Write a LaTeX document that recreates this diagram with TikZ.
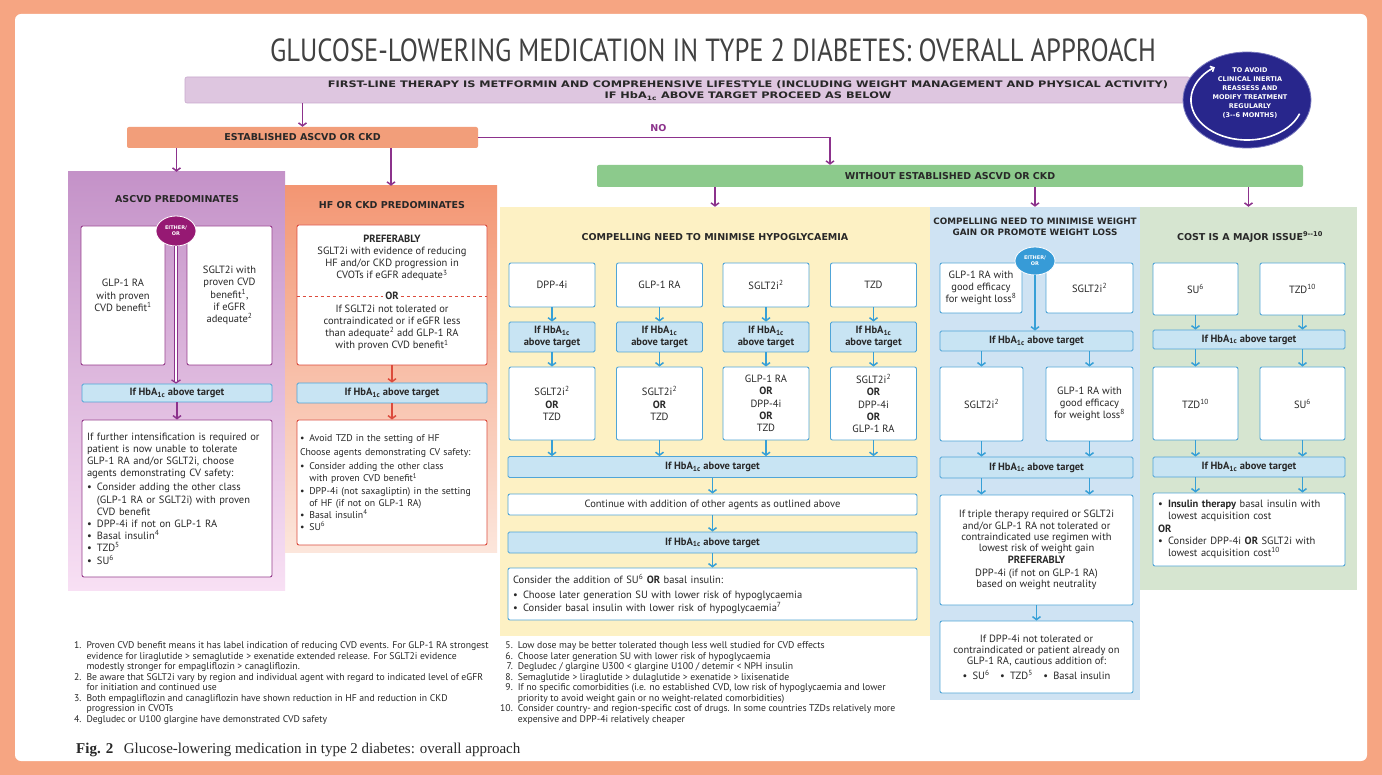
\documentclass[tikz,border=0pt]{standalone}
\usepackage{fontspec}
\setmainfont{PT Sans}
\newfontfamily\headfont{DejaVu Sans}
\newfontfamily\widefont{DejaVu Sans}[FakeStretch=1.26]
\newfontfamily\titlefont{PT Sans}[FakeStretch=0.83]
\newfontfamily\capfont{Liberation Serif}
\usetikzlibrary{arrows.meta,shapes.geometric}

\definecolor{framec}{RGB}{246,165,130}
\definecolor{titlec}{RGB}{65,65,65}
\definecolor{textc}{RGB}{40,40,40}
\definecolor{lavfill}{RGB}{222,198,224}
\definecolor{lavline}{RGB}{200,168,205}
\definecolor{navyc}{RGB}{40,38,140}
\definecolor{navyedge}{RGB}{120,120,190}
\definecolor{salmonbar}{RGB}{242,158,122}
\definecolor{purparrow}{RGB}{140,50,140}
\definecolor{greenbar}{RGB}{140,202,140}
\definecolor{ascvdtop}{RGB}{196,146,200}
\definecolor{ascvdbot}{RGB}{248,224,244}
\definecolor{hftop}{RGB}{243,150,115}
\definecolor{hfbot}{RGB}{252,230,220}
\definecolor{hypofill}{RGB}{253,241,196}
\definecolor{wtfill}{RGB}{207,227,243}
\definecolor{costfill}{RGB}{214,229,208}
\definecolor{bluebord}{RGB}{80,165,215}
\definecolor{bluearr}{RGB}{55,160,215}
\definecolor{barfill}{RGB}{200,228,243}
\definecolor{barline}{RGB}{80,165,215}
\definecolor{redbord}{RGB}{220,75,60}
\definecolor{purbord}{RGB}{150,60,140}
\definecolor{eopurple}{RGB}{150,25,115}
\definecolor{eoblue}{RGB}{55,155,215}

\newcommand{\hba}{HbA\textsubscript{1c}}
\newcommand{\bul}{\textbullet\enspace}
\newcommand{\bind}{\hphantom{\textbullet\enspace}}
\newcommand{\bodyfont}{\fontsize{10.5}{12.2}\selectfont}
\newcommand{\fnfont}{\fontsize{9.7}{10.5}\selectfont}

\tikzset{
  panel/.style={inner sep=0pt},
  sz/.style 2 args={minimum width=#1, minimum height=#2},
  wbox/.style={draw=#1, fill=white, line width=0.9pt, rounded corners=2pt, inner sep=1pt, align=center, font=\bodyfont, text=textc},
  lbox/.style={wbox=#1, align=left, inner xsep=5pt},
  tbar/.style={draw=barline, fill=barfill, line width=0.8pt, rounded corners=1.5pt, inner sep=0pt, align=center, font=\fontsize{10.5}{11.5}\selectfont\bfseries, text=textc},
  head/.style={font=\headfont\bfseries\fontsize{9.5}{11}\selectfont, align=center, inner sep=0pt, text=textc},
  eo/.style={ellipse, draw=white, line width=0.8pt, fill=#1, inner sep=0pt, text=white, align=center, font=\headfont\bfseries\fontsize{5}{6}\selectfont},
  arr/.style={draw=#1, line width=1.5pt, -{Straight Barb[length=3pt,width=8pt]}},
  dbl/.style={draw=#1, line width=1.2pt, double=white, double distance=2.4pt, -{Straight Barb[length=3pt,width=9pt]}},
}

\begin{document}
\begin{tikzpicture}[x=1pt, y=-1pt]
\useasboundingbox (0,0) rectangle (1382,775);
% frame
\fill[framec] (0,0) rectangle (1382,775);
\fill[white, rounded corners=6pt] (15,14) rectangle (1367,761);

\node[font=\titlefont\fontsize{32}{34}\selectfont, text=titlec] (title) at (713,50) {GLUCOSE-LOWERING MEDICATION IN TYPE 2 DIABETES: OVERALL APPROACH};

% first line therapy
\node[panel, fill=lavfill, draw=lavline, line width=0.6pt, rounded corners=2pt, sz={1005}{26}] (first) at (687.5,90) {};
\node[font=\widefont\bfseries\fontsize{9}{11}\selectfont, align=center, inner sep=0pt, text=textc] (firsttxt) at (748,90.5) {FIRST-LINE THERAPY IS METFORMIN AND COMPREHENSIVE LIFESTYLE (INCLUDING WEIGHT MANAGEMENT AND PHYSICAL ACTIVITY)\\IF HbA\textsubscript{1c} ABOVE TARGET PROCEED AS BELOW};

% review circle
\node[ellipse, fill=navyc, draw=navyedge, line width=0.8pt, inner sep=0pt, sz={128}{96}] (review) at (1247,100) {};
\draw[white, line width=1.6pt, -{Straight Barb[length=3pt,width=6pt]}] (1299.6,113.7) arc[start angle=-20, end angle=-235, x radius=56pt, y radius=40pt];
\node[font=\headfont\bfseries\fontsize{6.5}{9}\selectfont, text=white, align=center] (reviewtxt) at (1250,93) {TO AVOID\\CLINICAL INERTIA\\REASSESS AND\\MODIFY TREATMENT\\REGULARLY\\(3--6 MONTHS)};

% established / without
\node[panel, fill=salmonbar, rounded corners=2pt, sz={351}{21}, head] (est) at (302.5,137.5) {ESTABLISHED ASCVD OR CKD};
\node[panel, fill=greenbar, rounded corners=2pt, sz={706}{22}, head] (woe) at (950,176) {WITHOUT ESTABLISHED ASCVD OR CKD};
\draw[arr=purparrow] (est.north |- first.south) -- (est.north);
\draw[arr=purparrow] (est.east) -| ([xshift=-120pt]woe.north) node[pos=0.256, above=5pt, head, text=purparrow] (nolbl) {NO};

% panels
\node[panel, top color=ascvdtop, bottom color=ascvdbot, sz={217}{418}] (ascvd) at (176.5,381) {};
\node[panel, top color=hftop, bottom color=hfbot, sz={212}{366}] (hf) at (391,369) {};
\node[panel, fill=hypofill, sz={430}{429}] (hypo) at (715,421.5) {};
\node[panel, fill=wtfill, sz={210}{493}] (wt) at (1035,453.5) {};
\node[panel, fill=costfill, sz={217}{383}] (cost) at (1248.5,398.5) {};
\draw[arr=purparrow] (ascvd.north |- est.south) -- (ascvd.north);
\draw[arr=purparrow] (hf.north |- est.south) -- (hf.north);
\draw[arr=purparrow] (hypo.north |- woe.south) -- (hypo.north);
\draw[arr=purparrow] (wt.north |- woe.south) -- (wt.north);
\draw[arr=purparrow] (cost.north |- woe.south) -- (cost.north);

% ASCVD predominates
\node[head] (ascvdt) at (177,199) {ASCVD PREDOMINATES};
\node[wbox=purbord, sz={84}{139}] (a1) at (123,295.5) {GLP-1 RA\\with proven\\CVD benefit\textsuperscript{1}};
\node[wbox=purbord, sz={85}{139}] (a2) at (229.5,295.5) {SGLT2i with\\proven CVD\\benefit\textsuperscript{1},\\if eGFR\\adequate\textsuperscript{2}};
\node[eo=eopurple, sz={40}{30}] (eo1) at (176,231) {EITHER/\\OR};
\node[tbar, sz={190}{18}] (ab1) at (177,393) {If \hba{} above target};
\node[lbox=purbord, text width=180pt, sz={190}{157}] (a3) at (177,498.5) {If further intensification is required or\\patient is now unable to tolerate\\GLP-1 RA and/or SGLT2i, choose\\agents demonstrating CV safety:\\[2pt]\bul Consider adding the other class\\\bind (GLP-1 RA or SGLT2i) with proven\\\bind CVD benefit\\\bul DPP-4i if not on GLP-1 RA\\\bul Basal insulin\textsuperscript{4}\\\bul TZD\textsuperscript{5}\\\bul SU\textsuperscript{6}};
\draw[dbl=purparrow] (eo1.south) -- (eo1.south |- ab1.north);
\draw[arr=purparrow] (ab1) -- (a3);

% HF or CKD predominates
\node[head] (hft) at (392,205) {HF OR CKD PREDOMINATES};
\node[wbox=redbord, sz={190}{140}] (h1) at (392,295) {};
\node[font=\bodyfont, align=center, text=textc, inner sep=0pt] (h1up) at (392,258) {\textbf{PREFERABLY}\\SGLT2i with evidence of reducing\\HF and/or CKD progression in\\CVOTs if eGFR adequate\textsuperscript{3}};
\node[font=\bodyfont\bfseries, text=textc, inner sep=2pt] (h1or) at (392,296) {OR};
\node[font=\bodyfont, align=center, text=textc, inner sep=0pt] (h1lo) at (392,328) {If SGLT2i not tolerated or\\contraindicated or if eGFR less\\than adequate\textsuperscript{2} add GLP-1 RA\\with proven CVD benefit\textsuperscript{1}};
\draw[redbord, dashed, line width=0.7pt] (h1.west |- h1or) -- (h1or.west);
\draw[redbord, dashed, line width=0.7pt] (h1or.east) -- (h1.east |- h1or);
\node[tbar, sz={190}{20}] (hb) at (392,393) {If \hba{} above target};
\node[lbox=redbord, inner xsep=3pt, text width=184pt, sz={190}{125}, font=\fontsize{9.8}{12.2}\selectfont] (h2) at (392,482.5) {\bul Avoid TZD in the setting of HF\\[2pt]Choose agents demonstrating CV safety:\\[2pt]\bul Consider adding the other class\\\bind with proven CVD benefit\textsuperscript{1}\\\bul DPP-4i (not saxagliptin) in the setting\\\bind of HF (if not on GLP-1 RA)\\\bul Basal insulin\textsuperscript{4}\\\bul SU\textsuperscript{6}};
\draw[arr=redbord] (h1) -- (hb);
\draw[arr=redbord] (hb) -- (h2);

% minimise hypoglycaemia
\node[head] (hypot) at (715,237) {COMPELLING NEED TO MINIMISE HYPOGLYCAEMIA};
\node[wbox=bluebord, sz={86}{44}] (p1) at (552,285) {DPP-4i};
\node[wbox=bluebord, sz={86}{44}] (p2) at (659.5,285) {GLP-1 RA};
\node[wbox=bluebord, sz={86}{44}] (p3) at (766,285) {SGLT2i\textsuperscript{2}};
\node[wbox=bluebord, sz={86}{44}] (p4) at (873.5,285) {TZD};
\node[tbar, sz={86}{30}] (q1) at (552,337) {If \hba\\above target};
\node[tbar, sz={86}{30}] (q2) at (659.5,337) {If \hba\\above target};
\node[tbar, sz={86}{30}] (q3) at (766,337) {If \hba\\above target};
\node[tbar, sz={86}{30}] (q4) at (873.5,337) {If \hba\\above target};
\node[wbox=bluebord, sz={86}{73}] (r1) at (552,403.5) {SGLT2i\textsuperscript{2}\\\textbf{OR}\\TZD};
\node[wbox=bluebord, sz={86}{73}] (r2) at (659.5,403.5) {SGLT2i\textsuperscript{2}\\\textbf{OR}\\TZD};
\node[wbox=bluebord, sz={86}{73}] (r3) at (766,403.5) {GLP-1 RA\\\textbf{OR}\\DPP-4i\\\textbf{OR}\\TZD};
\node[wbox=bluebord, sz={86}{73}] (r4) at (873.5,403.5) {SGLT2i\textsuperscript{2}\\\textbf{OR}\\DPP-4i\\\textbf{OR}\\GLP-1 RA};
\node[tbar, sz={409}{21}] (hb1) at (712.5,467) {If \hba{} above target};
\node[wbox=bluebord, sz={409}{21}] (cont) at (712.5,504.5) {Continue with addition of other agents as outlined above};
\node[tbar, sz={409}{21}] (hb2) at (712.5,542.5) {If \hba{} above target};
\node[lbox=bluebord, text width=399pt, sz={409}{52}] (fin) at (712.5,594) {Consider the addition of SU\textsuperscript{6} \textbf{OR} basal insulin:\\[3pt]\bul Choose later generation SU with lower risk of hypoglycaemia\\\bul Consider basal insulin with lower risk of hypoglycaemia\textsuperscript{7}};
\draw[arr=bluearr] (p1) -- (q1);
\draw[arr=bluearr] (p2) -- (q2);
\draw[arr=bluearr] (p3) -- (q3);
\draw[arr=bluearr] (p4) -- (q4);
\draw[arr=bluearr] (q1) -- (r1);
\draw[arr=bluearr] (q2) -- (r2);
\draw[arr=bluearr] (q3) -- (r3);
\draw[arr=bluearr] (q4) -- (r4);
\draw[arr=bluearr] (r1.south) -- (r1.south |- hb1.north);
\draw[arr=bluearr] (r2.south) -- (r2.south |- hb1.north);
\draw[arr=bluearr] (r3.south) -- (r3.south |- hb1.north);
\draw[arr=bluearr] (r4.south) -- (r4.south |- hb1.north);
\draw[arr=bluearr] (hb1) -- (cont);
\draw[arr=bluearr] (cont) -- (hb2);
\draw[arr=bluearr] (hb2) -- (fin);

% minimise weight gain
\node[head, font=\headfont\bfseries\fontsize{8.8}{11}\selectfont] (wtt) at (1035,226.5) {COMPELLING NEED TO MINIMISE WEIGHT\\GAIN OR PROMOTE WEIGHT LOSS};
\node[wbox=bluebord, sz={82}{50}] (w1) at (981,288) {GLP-1 RA with\\good efficacy\\for weight loss\textsuperscript{8}};
\node[wbox=bluebord, sz={87}{50}] (w2) at (1089.5,288) {SGLT2i\textsuperscript{2}};
\node[eo=eoblue, sz={40}{28}] (eo2) at (1035,261) {EITHER/\\OR};
\node[tbar, sz={193}{20}] (wb1) at (1036.5,341) {If \hba{} above target};
\node[wbox=bluebord, sz={83}{74}] (w3) at (981.5,404) {SGLT2i\textsuperscript{2}};
\node[wbox=bluebord, sz={87}{74}] (w4) at (1089.5,404) {GLP-1 RA with\\good efficacy\\for weight loss\textsuperscript{8}};
\node[tbar, sz={193}{21}] (wb2) at (1036.5,467.5) {If \hba{} above target};
\node[wbox=bluebord, sz={193}{110}, font=\fontsize{10.5}{11.3}\selectfont] (w5) at (1036.5,550) {If triple therapy required or SGLT2i\\and/or GLP-1 RA not tolerated or\\contraindicated use regimen with\\lowest risk of weight gain\\[1pt]\textbf{PREFERABLY}\\[1pt]DPP-4i (if not on GLP-1 RA)\\based on weight neutrality};
\node[wbox=bluebord, sz={193}{72}, font=\fontsize{10.5}{11.3}\selectfont] (w6) at (1036.5,657) {If DPP-4i not tolerated or\\contraindicated or patient already on\\GLP-1 RA, cautious addition of:\\[3pt]\bul SU\textsuperscript{6}\quad\bul TZD\textsuperscript{5}\quad\bul Basal insulin};
\draw[arr=bluearr] (eo2.south) -- (eo2.south |- wb1.north);
\draw[arr=bluearr] (w3.north |- wb1.south) -- (w3.north);
\draw[arr=bluearr] (w4.north |- wb1.south) -- (w4.north);
\draw[arr=bluearr] (w3.south) -- (w3.south |- wb2.north);
\draw[arr=bluearr] (w4.south) -- (w4.south |- wb2.north);
\draw[arr=bluearr] (w3.south |- wb2.south) -- (w3.south |- w5.north);
\draw[arr=bluearr] (w4.south |- wb2.south) -- (w4.south |- w5.north);
\draw[arr=bluearr] (w5) -- (w6);

% cost is a major issue
\node[head] (costt) at (1250,237) {COST IS A MAJOR ISSUE\textsuperscript{9--10}};
\node[wbox=bluebord, sz={85}{52}] (k1) at (1195.5,289) {SU\textsuperscript{6}};
\node[wbox=bluebord, sz={85}{52}] (k2) at (1302.5,289) {TZD\textsuperscript{10}};
\node[tbar, sz={192}{19}] (kb1) at (1249,339.5) {If \hba{} above target};
\node[wbox=bluebord, sz={85}{73}] (k3) at (1195.5,403.5) {TZD\textsuperscript{10}};
\node[wbox=bluebord, sz={85}{73}] (k4) at (1302.5,403.5) {SU\textsuperscript{6}};
\node[tbar, sz={192}{20}] (kb2) at (1249,467) {If \hba{} above target};
\node[lbox=bluebord, text width=182pt, sz={192}{73}] (k5) at (1249,529.5) {\bul\textbf{Insulin therapy} basal insulin with\\\bind lowest acquisition cost\\\textbf{OR}\\\bul Consider DPP-4i \textbf{OR} SGLT2i with\\\bind lowest acquisition cost\textsuperscript{10}};
\draw[arr=bluearr] (k1.south) -- (k1.south |- kb1.north);
\draw[arr=bluearr] (k2.south) -- (k2.south |- kb1.north);
\draw[arr=bluearr] (k3.north |- kb1.south) -- (k3.north);
\draw[arr=bluearr] (k4.north |- kb1.south) -- (k4.north);
\draw[arr=bluearr] (k3.south) -- (k3.south |- kb2.north);
\draw[arr=bluearr] (k4.south) -- (k4.south |- kb2.north);
\draw[arr=bluearr] (k3.south |- kb2.south) -- (k3.south |- k5.north);
\draw[arr=bluearr] (k4.south |- kb2.south) -- (k4.south |- k5.north);

% footnotes
\node[anchor=north west, inner sep=0pt, font=\fnfont, text=textc] (notesl) at (74,641) {\begin{tabular}{@{}r@{\hspace{5pt}}l@{}}
1. & Proven CVD benefit means it has label indication of reducing CVD events. For GLP-1 RA strongest\\
 & evidence for liraglutide > semaglutide > exenatide extended release. For SGLT2i evidence\\
 & modestly stronger for empagliflozin > canagliflozin.\\
2. & Be aware that SGLT2i vary by region and individual agent with regard to indicated level of eGFR\\
 & for initiation and continued use\\
3. & Both empagliflozin and canagliflozin have shown reduction in HF and reduction in CKD\\
 & progression in CVOTs\\
4. & Degludec or U100 glargine have demonstrated CVD safety
\end{tabular}};
\node[anchor=north west, inner sep=0pt, font=\fnfont, text=textc] (notesr) at (500,641) {\begin{tabular}{@{}r@{\hspace{5pt}}l@{}}
5. & Low dose may be better tolerated though less well studied for CVD effects\\
6. & Choose later generation SU with lower risk of hypoglycaemia\\
7. & Degludec / glargine U300 < glargine U100 / detemir < NPH insulin\\
8. & Semaglutide > liraglutide > dulaglutide > exenatide > lixisenatide\\
9. & If no specific comorbidities (i.e. no established CVD, low risk of hypoglycaemia and lower\\
 & priority to avoid weight gain or no weight-related comorbidities)\\
10. & Consider country- and region-specific cost of drugs. In some countries TZDs relatively more\\
 & expensive and DPP-4i relatively cheaper
\end{tabular}};
\node[anchor=west, inner sep=0pt, font=\capfont\fontsize{15}{17}\selectfont, text=textc] (cap) at (76,750) {\textbf{Fig. 2}\hspace{0.7em}Glucose-lowering medication in type 2 diabetes: overall approach};
\end{tikzpicture}
\end{document}
